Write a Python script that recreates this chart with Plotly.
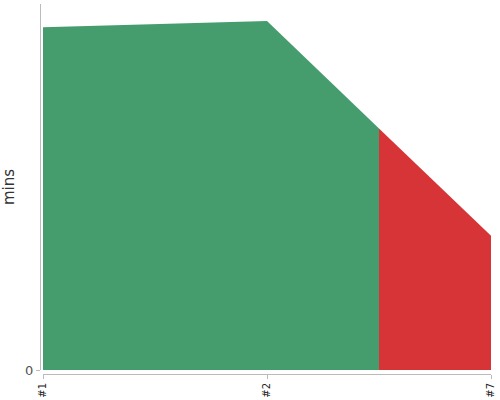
import plotly.graph_objects as go

# build labels and durations (mins)
builds = ['#1', '#2', '#7']
durations = [2.81, 2.86, 1.10]
statuses = ['success', 'success', 'failure']

colors = {'success': '#459d6d', 'failure': '#d63436'}

xs = list(range(len(builds)))

# group consecutive builds with the same status into one area,
# each build colouring the area halfway to its neighbours
runs = []
for i, s in enumerate(statuses):
    if runs and runs[-1][0] == s:
        runs[-1][1].append(i)
    else:
        runs.append((s, [i]))

fig = go.Figure()

for status, idx in runs:
    seg_x = []
    seg_y = []
    first, last = idx[0], idx[-1]
    if first > 0:
        seg_x.append(first - 0.5)
        seg_y.append((durations[first - 1] + durations[first]) / 2)
    for i in idx:
        seg_x.append(i)
        seg_y.append(durations[i])
    if last < len(builds) - 1:
        seg_x.append(last + 0.5)
        seg_y.append((durations[last] + durations[last + 1]) / 2)
    fig.add_trace(
        go.Scatter(
            x=seg_x,
            y=seg_y,
            mode='lines',
            line=dict(width=0, color=colors[status]),
            fill='tozeroy',
            fillcolor=colors[status],
            name=status,
            hoverinfo='skip',
        )
    )

fig.update_layout(
    width=500,
    height=400,
    margin=dict(l=40, r=9, t=4, b=26),
    plot_bgcolor='white',
    paper_bgcolor='white',
    showlegend=False,
    font=dict(family='DejaVu Sans', color='#555'),
    xaxis=dict(
        domain=[3 / 451, 1],
        anchor='free',
        position=0,
        automargin=False,
        range=[0, len(builds) - 1],
        tickvals=xs,
        ticktext=builds,
        tickangle=-90,
        ticks='outside',
        ticklen=4,
        tickcolor='#bbb',
        showline=True,
        linecolor='#bbb',
        linewidth=1,
        showgrid=False,
        zeroline=False,
        tickfont=dict(size=10, color='#222'),
    ),
    yaxis=dict(
        domain=[4 / 370, 1],
        anchor='free',
        position=0,
        automargin=False,
        range=[0, 3.0],
        tickvals=[0],
        ticktext=['0'],
        ticks='outside',
        ticklen=4,
        tickcolor='#bbb',
        showline=True,
        linecolor='#bbb',
        linewidth=1,
        showgrid=False,
        zeroline=False,
        tickfont=dict(size=13, color='#555'),
        title=dict(text='mins', font=dict(size=15, color='#333'), standoff=11),
    ),
)

# drop the default page margin so the 500x400 figure fills the window
fig.write_html(
    "out.html",
    config={'displayModeBar': False},
    post_script="document.body.style.margin='0';document.body.style.overflow='hidden';",
)
